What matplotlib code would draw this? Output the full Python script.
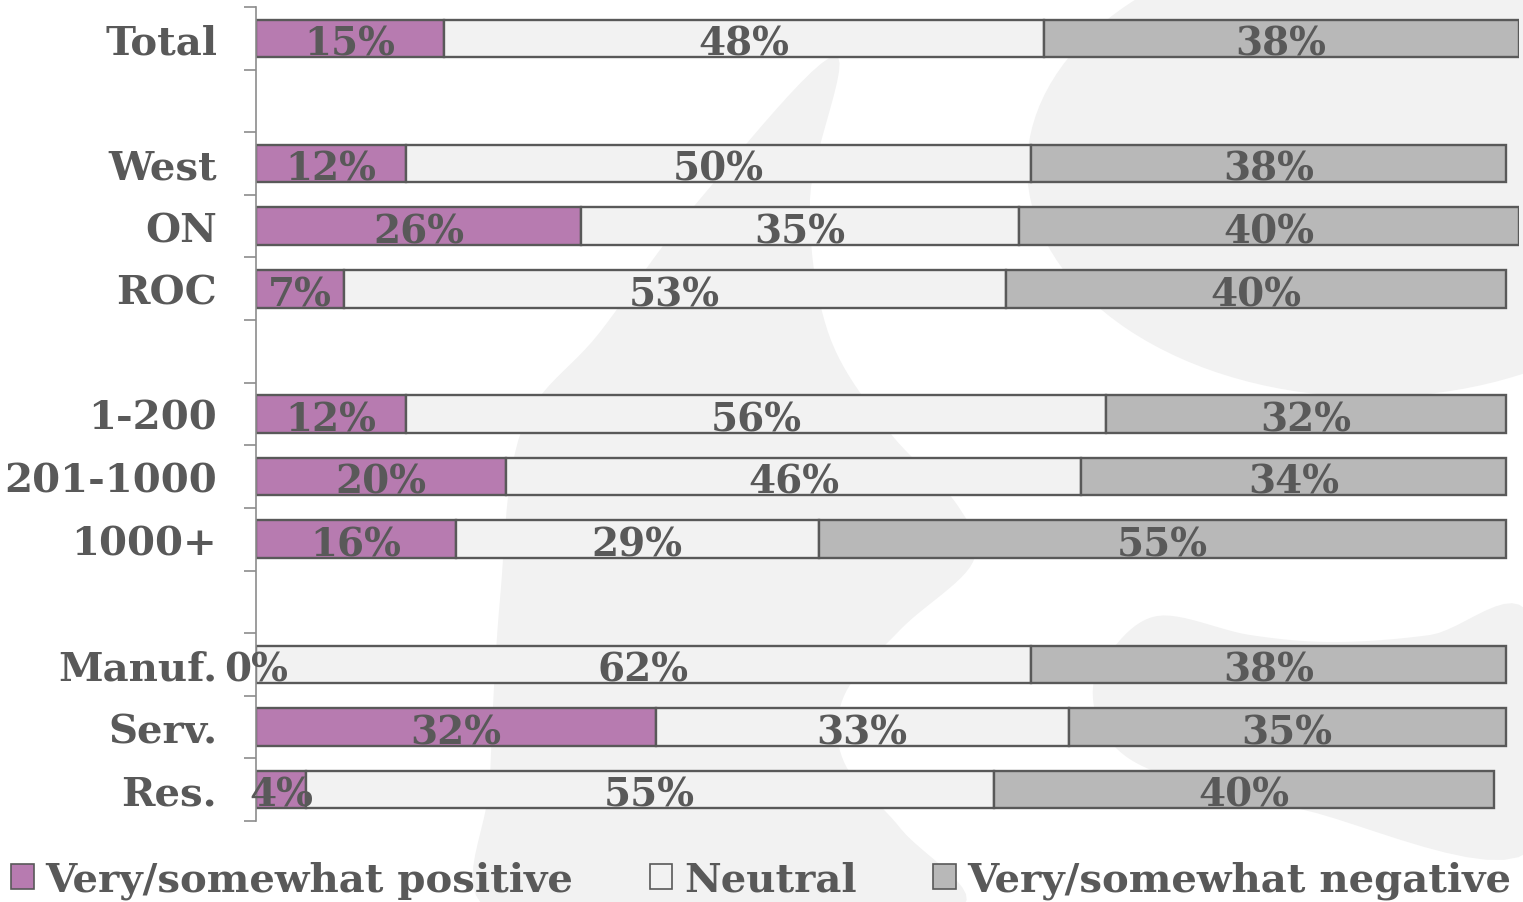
import numpy as np
import matplotlib
matplotlib.use("Agg")
import matplotlib.pyplot as plt
from matplotlib.patches import Polygon, Ellipse, Patch
from matplotlib.transforms import Affine2D
from matplotlib.ticker import FixedLocator

# ---------------- data ----------------
categories = ['Total', '', 'West', 'ON', 'ROC', '', '1-200', '201-1000', '1000+',
              '', 'Manuf.', 'Serv.', 'Res.']
positive = [15, np.nan, 12, 26, 7, np.nan, 12, 20, 16, np.nan, 0, 32, 4]
neutral = [48, np.nan, 50, 35, 53, np.nan, 56, 46, 29, np.nan, 62, 33, 55]
negative = [38, np.nan, 38, 40, 40, np.nan, 32, 34, 55, np.nan, 38, 35, 40]
series_names = ['Very/somewhat positive', 'Neutral', 'Very/somewhat negative']
series_colors = ['#b77bb0', '#f2f2f2', '#b8b8b8']

TXT = '#595959'
FONT = 'DejaVu Serif'

W, H = 1523, 903
fig = plt.figure(figsize=(W / 100, H / 100), dpi=100)
fig.patch.set_facecolor('white')

# ---------------- faint background watermark ----------------
px = Affine2D().scale(1 / W, -1 / H).translate(0, 1) + fig.transFigure
bg = '#f2f2f2'


def smooth(pts, n=12, closed=True):
    p = np.asarray(pts, float)
    if closed:
        p = np.vstack([p[-1], p, p[0], p[1]])
    else:
        p = np.vstack([p[0], p, p[-1]])
    out = []
    for i in range(1, len(p) - 2):
        p0, p1, p2, p3 = p[i - 1], p[i], p[i + 1], p[i + 2]
        for t in np.linspace(0, 1, n, endpoint=False):
            t2, t3 = t * t, t * t * t
            out.append(0.5 * ((2 * p1) + (-p0 + p2) * t + (2 * p0 - 5 * p1 + 4 * p2 - p3) * t2
                              + (-p0 + 3 * p1 - 3 * p2 + p3) * t3))
    return np.array(out)


blade = [(835, 57), (700, 200), (600, 333), (522, 430), (500, 600), (490, 780),
         (488, 910), (700, 915), (958, 910), (901, 830), (844, 763), (844, 697),
         (901, 630), (973, 563), (958, 507), (887, 430), (828, 333), (810, 200)]
fig.add_artist(Polygon(smooth(blade), closed=True, transform=px,
                       facecolor=bg, edgecolor='none', zorder=-10))
fig.add_artist(Ellipse((1372, 168), 690, 460, transform=px,
                       facecolor=bg, edgecolor='none', zorder=-10))
wedge = [(1157, 617), (1250, 636), (1334, 643), (1430, 636), (1530, 617),
         (1530, 852), (1300, 810), (1167, 777), (1112, 745), (1093, 700), (1105, 660)]
fig.add_artist(Polygon(smooth(wedge), closed=True, transform=px,
                       facecolor=bg, edgecolor='none', zorder=-10))

# ---------------- axes ----------------
ax = fig.add_axes([256 / W, (H - 822) / H, 1262.5 / W, 814 / H])
ax.patch.set_alpha(0)

y = np.arange(len(categories))
pos = np.array(positive, float)
neu = np.array(neutral, float)
neg = np.array(negative, float)
lefts = [np.zeros_like(pos), pos, pos + neu]
vals = [pos, neu, neg]

bar_h = 0.6
for vals_i, left_i, col, name in zip(vals, lefts, series_colors, series_names):
    ax.barh(y, vals_i, left=left_i, height=bar_h, color=col,
            edgecolor='#595959', linewidth=1.7, label=name, zorder=2)
    for yi, v, l in zip(y, vals_i, left_i):
        if np.isnan(v):
            continue
        ax.text(l + v / 2, yi + 0.26, f'{v:.0f}%', ha='center', va='baseline',
                fontsize=28, fontweight='bold', color=TXT, family=FONT, zorder=3)

ax.set_xlim(0, 101)
ax.set_ylim(len(categories) - 0.5, -0.5)

for s in ['top', 'right', 'bottom']:
    ax.spines[s].set_visible(False)
ax.spines['left'].set_color('#8c8c8c')
ax.spines['left'].set_linewidth(1.2)
ax.set_xticks([])

ax.yaxis.set_major_locator(FixedLocator(list(y)))
ax.set_yticklabels(categories, fontsize=29, fontweight='bold', color=TXT, family=FONT)
ax.tick_params(axis='y', which='major', length=0, pad=28)
ax.yaxis.set_minor_locator(FixedLocator(list(np.arange(-0.5, len(categories), 1.0))))
ax.tick_params(axis='y', which='minor', length=9, width=1.2, color='#8c8c8c')

# ---------------- legend ----------------
handles = [Patch(facecolor=c, edgecolor='#595959', linewidth=1.2) for c in series_colors]
leg = fig.legend(handles, series_names, loc='center', bbox_to_anchor=(0.5, 22 / H),
                 ncol=3, frameon=False, handlelength=0.55, handleheight=0.55,
                 handletextpad=0.3, columnspacing=1.9, borderpad=0,
                 prop={'family': FONT, 'weight': 'bold', 'size': 29})
for t in leg.get_texts():
    t.set_color(TXT)

fig.savefig('out.png', dpi=100, facecolor='white')
